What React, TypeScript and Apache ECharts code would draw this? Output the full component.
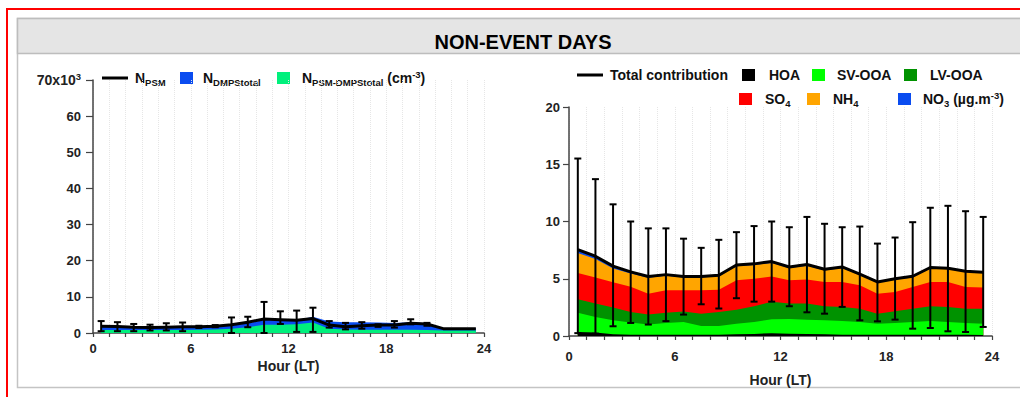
import React, { useEffect, useRef } from 'react';
import * as echarts from 'echarts';

// ---- shared categories ----
const hours = [0.5, 1.5, 2.5, 3.5, 4.5, 5.5, 6.5, 7.5, 8.5, 9.5, 10.5, 11.5, 12.5, 13.5, 14.5, 15.5, 16.5, 17.5, 18.5, 19.5, 20.5, 21.5, 22.5, 23.5];
const hourTicks = [0, 6, 12, 18, 24];

// ---- left panel (x10^3 cm^-3) ----
const nPsm = [1.9, 1.8, 1.6, 1.5, 1.6, 1.7, 1.7, 1.9, 2.3, 3.0, 3.9, 3.7, 3.5, 4.0, 2.2, 1.7, 2.0, 2.2, 2.2, 2.7, 2.5, 1.2, 1.2, 1.2];
const nPsmDmp = [0.8, 0.8, 0.8, 0.8, 0.8, 0.8, 0.9, 1.0, 1.2, 1.6, 2.3, 2.3, 2.4, 2.9, 1.2, 1.0, 0.9, 0.9, 0.9, 0.9, 0.8, 0.7, 0.7, 0.7];
const nDmp = [1.0, 0.9, 0.7, 0.6, 0.7, 0.8, 0.7, 0.8, 0.9, 1.1, 1.3, 1.2, 1.1, 1.6, 2.0, 2.0, 2.1, 2.0, 1.9, 2.1, 1.9, 0.7, 0.7, 0.7];
const errHiL = [3.3, 3.0, 2.5, 2.3, 2.7, 2.9, 2.0, 2.2, 4.3, 4.5, 8.6, 6.0, 6.2, 7.0, 3.3, 2.8, 3.0, 2.4, 3.3, 3.8, 2.8];
const errLoL = [0.5, 0.5, 0.5, 0.7, 0.7, 0.5, 1.4, 1.6, 0.0, 1.6, 0.0, 2.5, 0.3, 0.3, 1.5, 1.0, 1.2, 1.7, 1.5, 2.4, 2.0];
const yTicksL = [0, 10, 20, 30, 40, 50, 60, 70];

// ---- right panel (µg m^-3) ----
const hoa = [0.35, 0.3, 0.15, 0.12, 0.12, 0.12, 0.12, 0.1, 0.1, 0.15, 0.18, 0.25, 0.2, 0.18, 0.15, 0.12, 0.1, 0.1, 0.1, 0.12, 0.12, 0.1, 0.1, 0.08];
const svOoa = [1.69, 1.36, 1.22, 1.05, 0.88, 1.02, 1.10, 0.77, 0.77, 0.93, 1.04, 1.21, 1.29, 1.25, 1.22, 1.19, 1.12, 0.98, 1.04, 1.10, 1.19, 1.12, 1.04, 1.00];
const lvOoa = [1.16, 1.17, 1.13, 0.93, 0.87, 0.90, 0.93, 1.08, 1.23, 1.22, 1.38, 1.54, 1.34, 1.40, 1.23, 1.23, 1.17, 0.87, 1.02, 1.17, 1.29, 1.32, 1.25, 1.31];
const so4 = [2.3, 2.27, 2.2, 2.2, 1.83, 1.96, 1.85, 2.05, 1.95, 2.57, 2.4, 2.2, 2.04, 2.1, 2.12, 2.18, 2.04, 1.75, 1.69, 1.9, 2.12, 2.18, 1.9, 1.84];
const nh4 = [1.75, 1.62, 1.2, 1.15, 1.38, 1.26, 1.12, 1.12, 1.17, 1.23, 1.2, 1.18, 1.06, 1.21, 1.01, 1.21, 0.89, 0.95, 1.08, 0.83, 1.18, 1.14, 1.32, 1.29];
const no3 = [0.3, 0.25, 0.2, 0.15, 0.12, 0.1, 0.08, 0.08, 0.08, 0.1, 0.1, 0.12, 0.1, 0.1, 0.1, 0.1, 0.08, 0.07, 0.07, 0.1, 0.08, 0.06, 0.05, 0.05];
const totalR = [7.55, 6.97, 6.1, 5.6, 5.2, 5.36, 5.2, 5.2, 5.3, 6.2, 6.3, 6.5, 6.03, 6.24, 5.83, 6.03, 5.4, 4.72, 5.0, 5.22, 5.98, 5.92, 5.66, 5.57];
const errHiR = [15.5, 13.7, 11.5, 10.0, 9.4, 9.4, 8.5, 7.7, 8.4, 9.07, 9.6, 10.0, 9.5, 10.4, 9.8, 9.5, 9.56, 8.07, 8.6, 9.94, 11.2, 11.37, 10.9, 10.4];
const errLoR = [0.25, 0.2, 0.85, 1.14, 1.0, 1.3, 1.87, 2.77, 2.4, 3.3, 3.0, 3.0, 2.6, 2.07, 1.95, 2.54, 1.37, 1.28, 1.43, 0.64, 0.7, 0.41, 0.35, 0.79];
const yTicksR = [0, 5, 10, 15, 20];

const FONT = '"Liberation Sans", Arial, Helvetica, sans-serif';

const pairs = (ys: number[]) => ys.map((v, i) => [hours[i], v]);

// cumulative stacking done here; layers drawn top-first so lower layers paint over
function stackedAreas(idx: number, layers: { name: string; ys: number[]; color: string }[]) {
  const cum: number[][] = [];
  let run = hours.map(() => 0);
  layers.forEach((l) => {
    run = run.map((v, i) => v + l.ys[i]);
    cum.push(run.slice());
  });
  const out: any[] = [];
  for (let k = layers.length - 1; k >= 0; k--) {
    const color = layers[k].color;
    out.push({
      type: 'line',
      name: layers[k].name,
      xAxisIndex: idx,
      yAxisIndex: idx,
      data: pairs(cum[k].map((v) => Math.round(v * 1000) / 1000)),
      showSymbol: false,
      symbol: 'none',
      lineStyle: { width: 0, color },
      itemStyle: { color },
      areaStyle: { color, opacity: 1, origin: 'start' },
      z: 2,
    });
  }
  return out;
}

function errorSeries(idx: number, hi: number[], lo: number[], cap: number) {
  return {
    type: 'custom',
    xAxisIndex: idx,
    yAxisIndex: idx,
    z: 10,
    silent: true,
    encode: { x: 0, y: [1, 2] },
    data: hi.map((h, i) => [hours[i], h, lo[i]]),
    renderItem: (_p: any, api: any) => {
      const x = api.value(0);
      const p1 = api.coord([x, api.value(1)]);
      const p2 = api.coord([x, api.value(2)]);
      const st = { stroke: '#000', lineWidth: 2 };
      return {
        type: 'group',
        children: [
          { type: 'line', shape: { x1: p1[0], y1: p1[1], x2: p2[0], y2: p2[1] }, style: st },
          { type: 'line', shape: { x1: p1[0] - cap, y1: p1[1], x2: p1[0] + cap, y2: p1[1] }, style: st },
          { type: 'line', shape: { x1: p2[0] - cap, y1: p2[1], x2: p2[0] + cap, y2: p2[1] }, style: st },
        ],
      };
    },
  };
}

function xAxis(idx: number, labelMargin: number, nameGap: number) {
  return {
    type: 'value',
    gridIndex: idx,
    min: 0,
    max: 24,
    interval: 1,
    axisLine: { show: true, lineStyle: { color: '#444', width: 1.5 } },
    axisTick: { show: true, length: 4, lineStyle: { color: '#444', width: 1.2 } },
    axisLabel: {
      formatter: (v: number) => (hourTicks.indexOf(v) >= 0 ? String(v) : ''),
      fontSize: 13,
      fontWeight: 'bold',
      fontFamily: FONT,
      color: '#222',
      margin: labelMargin,
    },
    splitLine: { show: true, lineStyle: { color: '#e6e6e6', type: 'dotted', width: 1 } },
    name: 'Hour (LT)',
    nameLocation: 'middle',
    nameGap,
    nameMoveOverlap: false,
    nameTextStyle: { fontSize: 14, fontWeight: 'bold', fontFamily: FONT, color: '#222' },
  };
}

function yAxis(idx: number, ticks: number[], tickLen: number, margin: number, formatter: any, rich?: any) {
  return {
    type: 'value',
    gridIndex: idx,
    min: ticks[0],
    max: ticks[ticks.length - 1],
    interval: ticks[1] - ticks[0],
    axisLine: { show: true, lineStyle: { color: '#444', width: 1.5 } },
    axisTick: { show: true, length: tickLen, lineStyle: { color: '#444', width: 1.2 } },
    splitLine: { show: false },
    axisLabel: {
      formatter,
      rich,
      fontSize: 13,
      fontWeight: 'bold',
      fontFamily: FONT,
      color: '#222',
      margin,
    },
  };
}

function legendText(x: number, y: number, text: string) {
  return {
    type: 'text',
    x,
    y,
    style: {
      text,
      fill: '#111',
      textVerticalAlign: 'middle',
      font: `bold 14px ${FONT}`,
      rich: {
        m: { fontSize: 14, fontWeight: 'bold', fontFamily: FONT, lineHeight: 18, fill: '#111' },
        s: { fontSize: 9.5, fontWeight: 'bold', fontFamily: FONT, lineHeight: 10, verticalAlign: 'bottom', fill: '#111' },
        p: { fontSize: 9.5, fontWeight: 'bold', fontFamily: FONT, lineHeight: 10, verticalAlign: 'top', fill: '#111' },
      },
    },
  };
}

function legendBox(x: number, y: number, color: string) {
  return { type: 'rect', shape: { x, y: y - 6, width: 13, height: 12 }, style: { fill: color } };
}

function legendLine(x: number, y: number) {
  return { type: 'line', shape: { x1: x, y1: y, x2: x + 26, y2: y }, style: { stroke: '#000', lineWidth: 3 } };
}

export default function App() {
  const ref = useRef<HTMLDivElement>(null);
  useEffect(() => {
    document.body.style.margin = '0';
    if (!ref.current) return;
    const chart = echarts.init(ref.current, undefined, { renderer: 'svg' });
    const ly = 78;
    const r1 = 75;
    const r2 = 99;
    chart.setOption({
      animation: false,
      backgroundColor: '#fff',
      grid: [
        { left: 93, right: 536, top: 80, bottom: 64 },
        { left: 569, right: 28, top: 107, bottom: 61 },
      ],
      xAxis: [xAxis(0, 9, 26), xAxis(1, 14, 37)],
      yAxis: [
        yAxis(0, yTicksL, 7, 12, (v: number) => (v === 70 ? '{a|70x10}{p|3}' : String(v)), {
          a: { fontSize: 14, fontWeight: 'bold', fontFamily: FONT, color: '#222', lineHeight: 18 },
          p: { fontSize: 9.5, fontWeight: 'bold', fontFamily: FONT, color: '#222', lineHeight: 10, verticalAlign: 'top' },
        }),
        yAxis(1, yTicksR, 6, 9, (v: number) => String(v)),
      ],
      series: [
        ...stackedAreas(0, [
          { name: 'NPSM-DMPStotal', ys: nPsmDmp, color: '#00f07c' },
          { name: 'NDMPStotal', ys: nDmp, color: '#0a4cf0' },
        ]),
        {
          type: 'line', name: 'NPSM', xAxisIndex: 0, yAxisIndex: 0, data: pairs(nPsm),
          showSymbol: false, symbol: 'none', lineStyle: { color: '#000', width: 3 }, z: 5,
        },
        errorSeries(0, errHiL, errLoL, 3.5),
        ...stackedAreas(1, [
          { name: 'HOA', ys: hoa, color: '#000000' },
          { name: 'SV-OOA', ys: svOoa, color: '#00ff00' },
          { name: 'LV-OOA', ys: lvOoa, color: '#009200' },
          { name: 'SO4', ys: so4, color: '#ff0000' },
          { name: 'NH4', ys: nh4, color: '#ffa500' },
          { name: 'NO3', ys: no3, color: '#0a4cf0' },
        ]),
        {
          type: 'line', name: 'Total contribution', xAxisIndex: 1, yAxisIndex: 1, data: pairs(totalR),
          showSymbol: false, symbol: 'none', lineStyle: { color: '#000', width: 3 }, z: 5,
        },
        errorSeries(1, errHiR, errLoR, 3.5),
      ],
      graphic: [
        { type: 'rect', z: -10, shape: { x: 7, y: 9, width: 1040, height: 420 }, style: { fill: 'none', stroke: '#ff0000', lineWidth: 2 } },
        { type: 'rect', z: -9, shape: { x: 17.5, y: 18.5, width: 1030, height: 369 }, style: { fill: 'none', stroke: '#c4c4c4', lineWidth: 1.5 } },
        { type: 'rect', z: -8, shape: { x: 17.5, y: 18.5, width: 1030, height: 35 }, style: { fill: '#e5e5e5', stroke: '#bdbdbd', lineWidth: 1.5 } },
        {
          type: 'text', x: 523, y: 42,
          style: { text: 'NON-EVENT DAYS', fill: '#000', font: `bold 20px ${FONT}`, textAlign: 'center', textVerticalAlign: 'middle' },
        },
        // left legend
        legendLine(102, ly),
        legendText(135, ly, '{m|N}{s|PSM}'),
        legendBox(180, ly, '#0a4cf0'),
        legendText(203, ly, '{m|N}{s|DMPStotal}'),
        legendBox(277, ly, '#00f07c'),
        legendText(302, ly, '{m|N}{s|PSM-DMPStotal}{m| (cm}{p|-3}{m|)}'),
        // right legend row 1
        legendLine(577, r1),
        legendText(610, r1, '{m|Total contribution}'),
        legendBox(742, r1, '#000000'),
        legendText(769, r1, '{m|HOA}'),
        legendBox(812, r1, '#00ff00'),
        legendText(837, r1, '{m|SV-OOA}'),
        legendBox(904, r1, '#009200'),
        legendText(930, r1, '{m|LV-OOA}'),
        // right legend row 2
        legendBox(739, r2, '#ff0000'),
        legendText(765, r2, '{m|SO}{s|4}'),
        legendBox(807, r2, '#ffa500'),
        legendText(833, r2, '{m|NH}{s|4}'),
        legendBox(898, r2, '#0a4cf0'),
        legendText(923, r2, '{m|NO}{s|3}{m| (µg.m}{p|-3}{m|)}'),
      ],
    });
    return () => chart.dispose();
  }, []);
  return <div ref={ref} style={{ position: 'fixed', left: 0, top: 0, width: 1020, height: 397 }} />;
}
